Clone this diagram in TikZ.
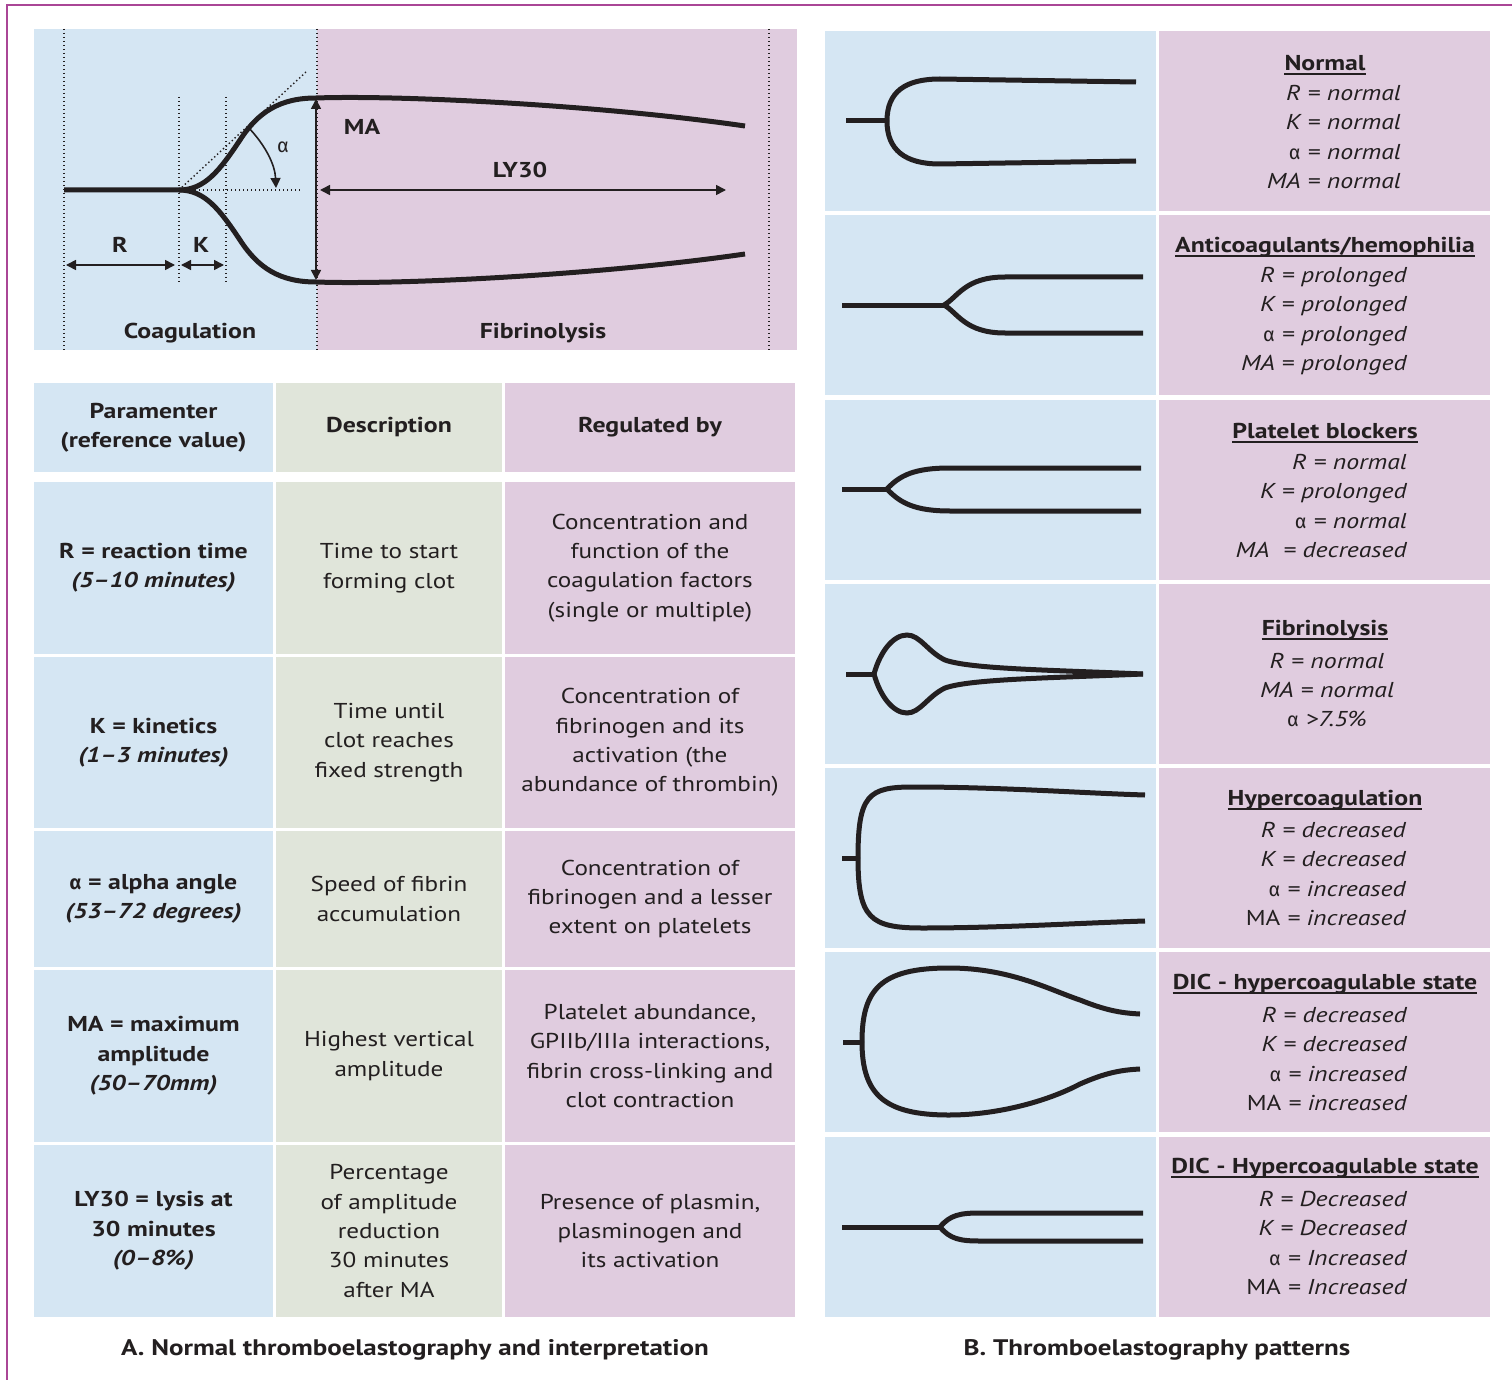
\documentclass[tikz,border=0pt]{standalone}
\usepackage{fontspec}
\setmainfont{PT Sans}[
  UprightFeatures={FakeStretch=1.17},
  BoldFeatures={FakeStretch=1.2},
  ItalicFeatures={FakeStretch=1.2},
  BoldItalicFeatures={FakeStretch=1.2}]
\newfontfamily\grkfont{Fira Sans}[Scale=0.92]
\usetikzlibrary{arrows.meta}

\definecolor{blueA}{RGB}{213,230,243}
\definecolor{pinkA}{RGB}{224,204,223}
\definecolor{greenA}{RGB}{224,229,218}
\definecolor{frameC}{RGB}{170,70,150}
\definecolor{ink}{RGB}{35,31,32}

\newcommand{\bodyfont}{\fontsize{21.5}{29.4}\selectfont}
\newcommand{\alf}{{\grkfont\upshape α}}

\tikzset{
  cell/.style={inner sep=0pt, align=center, text=ink, font=\bodyfont},
  tcell/.style={cell, minimum height=#1},
  pcell/.style={inner sep=0pt, minimum width=331pt, minimum height=180pt},
  head/.style={inner sep=0pt, text=ink, font=\bodyfont\bfseries},
  attr/.style={inner sep=0pt, align=right, text=ink, font=\bodyfont\itshape},
  lbl/.style={inner sep=0pt, text=ink, font=\bodyfont\bfseries},
  caption/.style={inner sep=0pt, text=ink, font=\fontsize{22.5}{27}\selectfont\bfseries},
  guide/.style={ink, line width=1.4pt, dash pattern=on 1.4pt off 2.6pt},
  tegline/.style={ink, line width=5pt},
  dim/.style={ink, line width=1.6pt, {Triangle[length=10pt,width=10pt]}-{Triangle[length=10pt,width=10pt]}},
  dimone/.style={ink, line width=1.6pt, -{Triangle[length=10pt,width=10pt]}},
  uline/.style={ink, line width=1.6pt}
}

\begin{document}
\begin{tikzpicture}[x=1pt, y=-1pt]
\useasboundingbox (0,0) rectangle (1512,1380);
% outer frame
\draw[frameC, line width=2pt] (1512,5) -- (7,5) -- (7,1380);

% ---- A: normal trace ----
\fill[blueA] (34,29) rectangle (317,350);
\fill[pinkA] (317,29) rectangle (797,350);
\foreach \x in {64,317,769}
  \draw[guide] (\x,29) -- (\x,350);
\foreach \x in {179,226}
  \draw[guide] (\x,97) -- (\x,283);
\coordinate (jn) at (179,190);
\draw[guide] (jn) -- (306,72);
\draw[guide] (jn) -- (301,190);
\draw[tegline] (64,190) -- (jn) .. controls (205,190) and (220,170) .. (240,140) .. controls (258,112) and (280,98) .. (316,98) .. controls (400,95) and (600,105) .. (745,126);
\draw[tegline] (jn) .. controls (205,190) and (220,210) .. (240,240) .. controls (258,268) and (280,282) .. (316,282) .. controls (400,285) and (600,275) .. (745,254);

\coordinate (matop) at (316,99);
\coordinate (mabot) at (316,280);
\coordinate (lyl) at (320,190);
\coordinate (lyr) at (726,190);
\coordinate (rl) at (66,265);
\coordinate (rr) at (175,265);
\coordinate (kl) at (181,265);
\coordinate (kr) at (224,265);
\coordinate (alfa) at (248,127);
\coordinate (alfb) at (276,188);
\draw[dim] (matop) -- (mabot);
\draw[dim] (lyl) -- (lyr);
\draw[dim] (rl) -- (rr);
\draw[dim] (kl) -- (kr);
\draw[dimone] (alfa) .. controls (266,146) and (275,165) .. (alfb);

\node[lbl] (tma) at (362,127) {MA};
\node[lbl] (tly) at (520,170) {LY30};
\node[cell] (tal) at (283,147) {\alf};
\node[lbl] (tr) at (120,245) {R};
\node[lbl] (tk) at (201,245) {K};
\node[lbl] (tcoag) at (190,333) {Coagulation};
\node[lbl] (tfib) at (543,333) {Fibrinolysis};

% ---- A: table ----
\node[tcell=89pt, fill=blueA, minimum width=239pt, font=\bodyfont\bfseries] (hpar) at (153.5,427.5) {Paramenter\\(reference value)};
\node[tcell=89pt, fill=greenA, minimum width=226pt, font=\bodyfont\bfseries] (hdes) at (389,427.5) {Description};
\node[tcell=89pt, fill=pinkA, minimum width=290pt, font=\bodyfont\bfseries] (hreg) at (650,427.5) {Regulated by};

\node[tcell=172pt, fill=blueA, minimum width=239pt] (par1) at (153.5,568) {\textbf{R = reaction time}\\\textbf{\textit{(5–10 minutes)}}};
\node[tcell=172pt, fill=greenA, minimum width=226pt] (des1) at (389,568) {Time to start\\forming clot};
\node[tcell=172pt, fill=pinkA, minimum width=290pt] (reg1) at (650,568) {Concentration and\\function of the\\coagulation factors\\(single or multiple)};

\node[tcell=171pt, fill=blueA, minimum width=239pt] (par2) at (153.5,742.5) {\textbf{K = kinetics}\\\textbf{\textit{(1–3 minutes)}}};
\node[tcell=171pt, fill=greenA, minimum width=226pt] (des2) at (389,742.5) {Time until\\clot reaches\\fixed strength};
\node[tcell=171pt, fill=pinkA, minimum width=290pt] (reg2) at (650,742.5) {Concentration of\\fibrinogen and its\\activation (the\\abundance of thrombin)};

\node[tcell=136pt, fill=blueA, minimum width=239pt] (par3) at (153.5,899) {\textbf{\alf{} = alpha angle}\\\textbf{\textit{(53–72 degrees)}}};
\node[tcell=136pt, fill=greenA, minimum width=226pt] (des3) at (389,899) {Speed of fibrin\\accumulation};
\node[tcell=136pt, fill=pinkA, minimum width=290pt] (reg3) at (650,899) {Concentration of\\fibrinogen and a lesser\\extent on platelets};

\node[tcell=172pt, fill=blueA, minimum width=239pt] (par4) at (153.5,1056) {\textbf{MA = maximum}\\\textbf{amplitude}\\\textbf{\textit{(50–70mm)}}};
\node[tcell=172pt, fill=greenA, minimum width=226pt] (des4) at (389,1056) {Highest vertical\\amplitude};
\node[tcell=172pt, fill=pinkA, minimum width=290pt] (reg4) at (650,1056) {Platelet abundance,\\GPIIb/IIIa interactions,\\fibrin cross-linking and\\clot contraction};

\node[tcell=172pt, fill=blueA, minimum width=239pt] (par5) at (153.5,1231) {\textbf{LY30 = lysis at}\\\textbf{30 minutes}\\\textbf{\textit{(0–8\%)}}};
\node[tcell=172pt, fill=greenA, minimum width=226pt] (des5) at (389,1231) {Percentage\\of amplitude\\reduction\\30 minutes\\after MA};
\node[tcell=172pt, fill=pinkA, minimum width=290pt] (reg5) at (650,1231) {Presence of plasmin,\\plasminogen and\\its activation};

\node[caption] (capA) at (415,1350) {A. Normal thromboelastography and interpretation};

% ---- B: patterns ----
\foreach \yc [count=\i] in {121,305,489.5,674,858,1042,1226.5} {
  \node[pcell, fill=blueA] (pat\i) at (990.5,\yc) {};
  \node[pcell, fill=pinkA] (inf\i) at (1324.5,\yc) {};
}

% normal
\draw[tegline] (846,121) -- (887,121);
\draw[tegline] (887,121) .. controls (887,92) and (905,79) .. (940,79) -- (1136,82);
\draw[tegline] (887,121) .. controls (887,150) and (905,164) .. (940,164) -- (1136,161);
% anticoagulants
\draw[tegline] (842,305) -- (944,305);
\draw[tegline] (944,305) .. controls (958,297) and (965,277) .. (1005,277) -- (1143,277);
\draw[tegline] (944,305) .. controls (958,313) and (965,333) .. (1005,333) -- (1143,333);
% platelet blockers
\draw[tegline] (842,489) -- (887,489);
\draw[tegline] (887,489) .. controls (900,475) and (915,468) .. (950,468) -- (1141,468);
\draw[tegline] (887,489) .. controls (900,503) and (915,511) .. (950,511) -- (1141,511);
% fibrinolysis
\draw[tegline] (846,674) -- (874,674);
\draw[tegline] (874,674) .. controls (880,652) and (893,635) .. (907,635) .. controls (920,635) and (928,652) .. (945,660) .. controls (970,669) and (1050,670) .. (1143,674);
\draw[tegline] (874,674) .. controls (880,696) and (893,713) .. (907,713) .. controls (920,713) and (928,696) .. (945,688) .. controls (970,679) and (1050,678) .. (1143,674);
% hypercoagulation
\draw[tegline] (842,858) -- (858,858);
\draw[tegline] (858,858) .. controls (858,795) and (868,787) .. (913,787) .. controls (1000,787) and (1080,793) .. (1145,795);
\draw[tegline] (858,858) .. controls (858,918) and (870,928) .. (922,928) .. controls (1000,928) and (1080,923) .. (1145,921);
% DIC 1
\draw[tegline] (843,1042) -- (862,1042);
\draw[tegline] (862,1042) .. controls (862,990) and (880,968) .. (949,968) .. controls (1010,968) and (1050,990) .. (1080,1000) .. controls (1105,1010) and (1120,1013) .. (1140,1014);
\draw[tegline] (862,1042) .. controls (862,1095) and (885,1115) .. (949,1115) .. controls (1000,1115) and (1050,1100) .. (1080,1084) .. controls (1105,1073) and (1120,1070) .. (1140,1069);
% DIC 2
\draw[tegline] (842,1227) -- (940,1227);
\draw[tegline] (940,1227) .. controls (950,1215) and (960,1213) .. (980,1213) -- (1143,1213);
\draw[tegline] (940,1227) .. controls (950,1239) and (960,1241) .. (980,1241) -- (1143,1241);

\node[head] (hd1) at (1325,63) {Normal};
\node[attr, anchor=east] (bd1) at (1401,137) {R = normal\\K = normal\\\alf{} = normal\\MA = normal};
\node[head] (hd2) at (1325,247) {Anticoagulants/hemophilia};
\node[attr, anchor=east] (bd2) at (1407,321) {R = prolonged\\K = prolonged\\\alf{} = prolonged\\MA = prolonged};
\node[head] (hd3) at (1325,431) {Platelet blockers};
\node[attr, anchor=east] (bd3) at (1407,506) {R = normal\\K = prolonged\\\alf{} = normal\\MA\ \ = decreased};
\node[head] (hd4) at (1325,630) {Fibrinolysis};
\node[attr, align=center] (bd4) at (1327,690) {R = normal\\MA = normal\\\alf{} >7.5\%};
\node[head] (hd5) at (1325,800) {Hypercoagulation};
\node[attr, anchor=east] (bd5) at (1406,874) {R = decreased\\K = decreased\\\alf{} = increased\\{\upshape MA} = increased};
\node[head] (hd6) at (1325,984) {DIC - hypercoagulable state};
\node[attr, anchor=east] (bd6) at (1407,1059) {R = decreased\\K = decreased\\\alf{} = increased\\{\upshape MA} = increased};
\node[head] (hd7) at (1325,1168) {DIC - Hypercoagulable state};
\node[attr, anchor=east] (bd7) at (1407,1243) {R = Decreased\\K = Decreased\\\alf{} = Increased\\{\upshape MA} = Increased};
\foreach \h in {hd1,hd2,hd3,hd4,hd5,hd6,hd7}
  \draw[uline] ([yshift=-3.5pt]\h.base west) -- ([yshift=-3.5pt]\h.base east);

\node[caption] (capB) at (1157,1350) {B. Thromboelastography patterns};
\end{tikzpicture}
\end{document}
